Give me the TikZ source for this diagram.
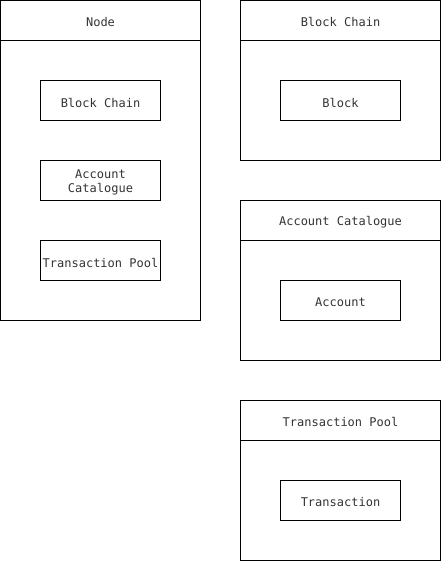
\documentclass[tikz,border=0pt]{standalone}
\usepackage{fontspec}
\setmonofont{DejaVu Sans Mono}
\newcommand{\lowtext}[1]{\raisebox{-2pt}[\height][\depth]{#1}}
\tikzset{
  frame/.style={draw=black, line width=1pt, minimum width=200pt, minimum height=160pt, inner sep=0pt},
  part/.style={draw=black, line width=1pt, minimum width=120pt, minimum height=40pt, inner sep=0pt,
    align=center, font=\ttfamily\fontsize{12}{14}\selectfont, text=black!80},
  title/.style={font=\ttfamily\fontsize{12}{14}\selectfont, text=black!80, yshift=-1.5pt}
}
\begin{document}
\begin{tikzpicture}[x=1pt, y=-1pt]
            \useasboundingbox (0,0) rectangle (441,561);

            % node container
            \node[frame, minimum height=320pt] (node) at (100.5,160.5) {};
            \draw[line width=1pt] (0.5,40.5) -- (200.5,40.5);
            \node[title] (nodetitle) at (100.5,20.5) {Node};
            \node[part] (nchain) at (100.5,100.5) {\lowtext{Block Chain}};
            \node[part] (ncat) at (100.5,180.5) {\lowtext{\begin{tabular}{@{}c@{}}Account\\Catalogue\end{tabular}}};
            \node[part] (npool) at (100.5,260.5) {\lowtext{Transaction Pool}};

            % block chain
            \node[frame] (chain) at (340.5,80.5) {};
            \draw[line width=1pt] (240.5,40.5) -- (440.5,40.5);
            \node[title] (chaintitle) at (340.5,20.5) {Block Chain};
            \node[part] (block) at (340.5,100.5) {\lowtext{Block}};

            % account catalogue
            \node[frame] (cat) at (340.5,280.5) {};
            \draw[line width=1pt] (240.5,240.5) -- (440.5,240.5);
            \node[title] (cattitle) at (340.5,220.5) {Account Catalogue};
            \node[part] (account) at (340.5,300.5) {\lowtext{Account}};

            % transaction pool
            \node[frame] (pool) at (340.5,480.5) {};
            \draw[line width=1pt] (240.5,440.5) -- (440.5,440.5);
            \node[title] (pooltitle) at (340.5,420.5) {Transaction Pool};
            \node[part] (tx) at (340.5,500.5) {\lowtext{Transaction}};
\end{tikzpicture}
\end{document}
